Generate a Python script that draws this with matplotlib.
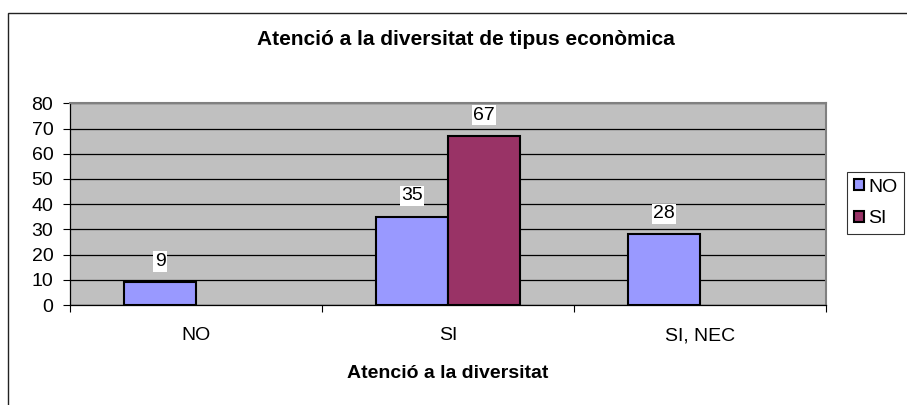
import numpy as np
import matplotlib
matplotlib.use("Agg")
import matplotlib.pyplot as plt
from matplotlib.patches import Rectangle

plt.rcParams['font.family'] = ['Liberation Sans', 'DejaVu Sans']

categories = ["NO", "SI", "SI, NEC"]
series_names = ["NO", "SI"]
values_no = [9, 35, 28]
values_si = [np.nan, 67, np.nan]
colors = ["#9999FF", "#993366"]
title = "Atenció a la diversitat de tipus econòmica"
xlabel = "Atenció a la diversitat"
yticks = [0, 10, 20, 30, 40, 50, 60, 70, 80]

W, H = 907, 405
FS = 14
fig = plt.figure(figsize=(W / 100, H / 100), dpi=100)
fig.patch.set_facecolor("white")

# outer chart border
fig.patches.append(Rectangle((7.5 / W, -0.05), 1.2, 1 - 12.5 / H + 0.05,
                             transform=fig.transFigure, fill=False,
                             edgecolor="#222222", lw=1.0))

ax = fig.add_axes([70 / W, 1 - 305 / H, 756 / W, (305 - 103.3) / H])
ax.set_facecolor("#C0C0C0")

x = np.arange(len(categories))
w = 72 / 252
series = [values_no, values_si]
for i, (vals, c, name) in enumerate(zip(series, colors, series_names)):
    pos = x - w / 2 + i * w
    ax.bar(pos, vals, width=w, color=c, edgecolor="black", lw=1.5,
           label=name, zorder=3)
    for p, v in zip(pos, vals):
        if not np.isnan(v):
            ax.annotate(f"{v:g}", (p, v), xytext=(0, 15), textcoords="offset points",
                        ha="center", va="center", fontsize=FS,
                        bbox=dict(boxstyle="square,pad=0.08", fc="white", ec="none"),
                        zorder=4)

ax.set_xlim(-0.5, 2.5)
ax.set_ylim(0, 80)
ax.set_yticks(yticks)
ax.yaxis.grid(True, color="black", lw=0.9, zorder=1)
ax.set_axisbelow(True)
ax.set_xticks(x)
ax.set_xticklabels(categories, fontsize=FS)
ax.set_xticks([-0.5, 0.5, 1.5, 2.5], minor=True)
ax.tick_params(axis="x", which="major", length=0, pad=16)
ax.tick_params(axis="x", which="minor", length=5, width=0.8, color="black")
ax.tick_params(axis="y", length=5, width=0.8, labelsize=FS, pad=7)

for s in ["top", "right"]:
    ax.spines[s].set_color("#808080")
    ax.spines[s].set_linewidth(1.5)
for s in ["left", "bottom"]:
    ax.spines[s].set_color("black")
    ax.spines[s].set_linewidth(0.9)

fig.text(466 / W, 1 - 45 / H, title, ha="center", va="baseline",
         fontsize=15, fontweight="bold")
fig.text(448 / W, 1 - 378 / H, xlabel, ha="center", va="baseline",
         fontsize=FS, fontweight="bold")

leg = ax.legend(loc="upper left", bbox_to_anchor=(847 / W, 1 - 172 / H),
                bbox_transform=fig.transFigure, borderaxespad=0,
                frameon=True, fancybox=False, fontsize=FS,
                handlelength=0.5, handleheight=0.5, handletextpad=0.25,
                labelspacing=0.75, borderpad=0.35)
leg.get_frame().set_edgecolor("black")
leg.get_frame().set_linewidth(0.8)
for h in leg.legend_handles:
    h.set_edgecolor("black")
    h.set_linewidth(1.5)

fig.savefig("out.png", dpi=100)
